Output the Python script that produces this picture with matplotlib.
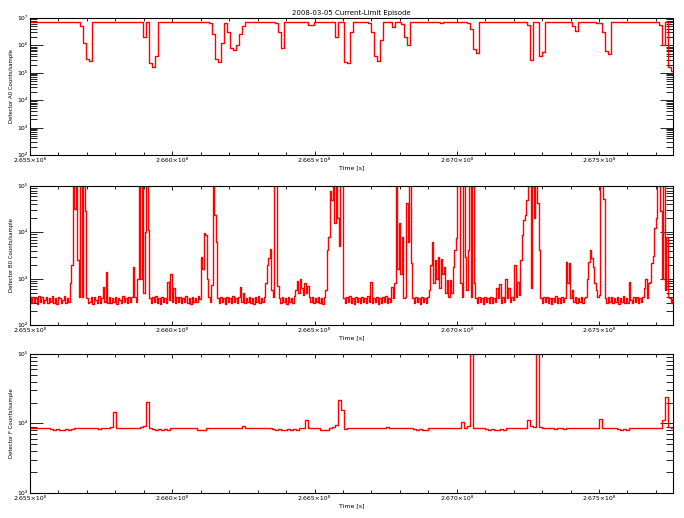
import numpy as np
import matplotlib
matplotlib.use("Agg")
import matplotlib.pyplot as plt
from matplotlib.ticker import MultipleLocator, LogLocator, FuncFormatter, NullFormatter

plt.rcParams['font.family'] = ['DejaVu Sans']

title = "2008-03-05 Current-Limit Episode"
ylabels = ["Detector A0 Counts/sample", "Detector B0 Counts/sample", "Detector F Counts/sample"]
xlabel = "Time [s]"
ylims = [(1e2, 1e7), (1e2, 1e5), (1e3, 1e5)]

T0 = 2.655e8          # first sample time [s]
T1 = 2.6776e8         # end of plotted window [s]
dt_a0 = 10560.0       # sample cadence [s]
dt_b0 = 5280.0
dt_f = 10560.0

# log10 of counts/sample
log_a0 = [
    6.86, 6.86, 6.86, 6.86, 6.86, 6.86, 6.86, 6.86, 6.86, 6.86,
    6.86, 6.86, 6.86, 6.86, 6.86, 6.86, 6.86, 6.70, 6.10, 5.50,
    5.42, 6.86, 6.86, 6.86, 6.86, 6.86, 6.86, 6.86, 6.86, 6.86,
    6.86, 6.86, 6.86, 6.86, 6.86, 6.86, 6.86, 6.86, 6.30, 6.86,
    5.35, 5.22, 5.60, 6.86, 6.86, 6.86, 6.86, 6.86, 6.86, 6.86,
    6.86, 6.86, 6.86, 6.86, 6.86, 6.86, 6.86, 6.86, 6.86, 6.86,
    6.80, 6.40, 5.50, 5.38, 6.10, 6.82, 6.50, 5.90, 5.83, 6.00,
    6.40, 6.72, 6.86, 6.86, 6.86, 6.86, 6.86, 6.86, 6.86, 6.86,
    6.86, 6.86, 6.82, 6.50, 5.90, 6.86, 6.86, 6.86, 6.86, 6.86,
    6.86, 6.86, 6.86, 6.76, 6.76, 6.86, 6.86, 6.86, 6.86, 6.86,
    6.86, 6.86, 6.30, 6.86, 6.86, 5.41, 5.35, 6.50, 6.86, 6.86,
    6.86, 6.86, 6.86, 6.80, 6.50, 5.60, 5.43, 6.20, 6.86, 6.86,
    6.86, 6.68, 6.86, 6.86, 6.78, 6.30, 6.00, 6.86, 6.86, 6.86,
    6.86, 6.86, 6.86, 6.86, 6.86, 6.86, 6.86, 6.82, 6.86, 6.86,
    6.86, 6.86, 6.86, 6.86, 6.86, 6.86, 6.82, 6.60, 5.85, 5.71,
    6.86, 6.86, 6.86, 6.86, 6.86, 6.86, 6.86, 6.86, 6.86, 6.86,
    6.86, 6.86, 6.86, 6.86, 6.86, 6.86, 6.75, 5.45, 6.86, 6.86,
    5.60, 5.75, 6.86, 6.86, 6.86, 6.86, 6.86, 6.86, 6.86, 6.86,
    6.86, 6.72, 6.53, 6.86, 6.86, 6.86, 6.86, 6.86, 6.86, 6.82,
    6.82, 6.50, 5.80, 5.68, 6.86, 6.86, 6.86, 6.86, 6.86, 6.86,
    6.86, 6.86, 6.86, 6.86, 6.86, 6.86, 6.86, 6.86, 6.86, 6.86,
    6.75, 6.00, 6.86, 5.20, 5.07,
]

log_b0 = [
    2.60, 2.47, 2.61, 2.49, 2.59, 2.46, 2.62, 2.50, 2.60, 2.48,
    2.53, 2.61, 2.47, 2.59, 2.49, 2.62, 2.48, 2.58, 2.46, 2.60,
    2.59, 2.48, 2.55, 2.62, 2.47, 2.58, 2.49, 2.90, 3.30, 5.50,
    4.50, 5.50, 3.40, 2.60, 5.50, 2.60, 5.50, 4.45, 2.58, 2.47,
    2.49, 2.60, 2.46, 2.61, 2.54, 2.48, 2.62, 2.47, 2.59, 2.83,
    2.50, 3.15, 2.48, 2.60, 2.47, 2.58, 2.49, 2.61, 2.46, 2.59,
    2.55, 2.47, 2.62, 2.49, 2.58, 2.48, 2.60, 2.50, 2.61, 3.26,
    2.60, 2.49, 3.00, 5.50, 3.00, 5.50, 2.70, 4.00, 5.50, 4.05,
    2.58, 2.47, 2.60, 2.49, 2.62, 2.48, 2.59, 2.46, 2.61, 2.50,
    2.58, 2.48, 2.93, 2.54, 3.10, 2.49, 2.80, 2.47, 2.60, 2.50,
    2.61, 2.47, 2.58, 2.49, 2.62, 2.48, 2.59, 2.46, 2.60, 2.50,
    2.58, 2.49, 2.62, 2.57, 3.47, 3.20, 3.98, 3.95, 3.00, 2.60,
    2.49, 2.86, 5.50, 4.37, 3.80, 2.58, 2.47, 2.60, 2.49, 2.59,
    2.46, 2.61, 2.50, 2.58, 2.47, 2.62, 2.49, 2.59, 2.48, 2.60,
    2.83, 2.50, 2.70, 2.47, 2.59, 2.49, 2.61, 2.48, 2.58, 2.46,
    2.60, 2.50, 2.62, 2.47, 2.58, 2.49, 2.61, 2.90, 3.29, 3.44,
    3.65, 2.75, 2.60, 5.50, 5.50, 2.85, 2.58, 2.47, 2.60, 2.49,
    2.59, 2.46, 2.61, 2.50, 2.58, 2.48, 2.62, 2.75, 2.95, 2.70,
    3.00, 2.80, 2.65, 2.90, 2.70, 2.85, 2.60, 2.49, 2.60, 2.47,
    2.58, 2.49, 2.61, 2.48, 2.59, 2.46, 2.60, 2.75, 3.62, 3.90,
    4.90, 4.70, 5.50, 4.20, 5.50, 4.30, 3.70, 5.50, 5.50, 2.58,
    2.47, 2.60, 2.49, 2.62, 2.48, 2.58, 2.46, 2.61, 2.50, 2.59,
    2.47, 2.60, 2.49, 2.58, 2.48, 2.62, 2.50, 2.93, 2.47, 2.59,
    2.49, 2.61, 2.46, 2.58, 2.48, 2.60, 2.50, 2.62, 2.47, 2.59,
    2.49, 2.81, 2.58, 2.90, 5.50, 3.20, 4.20, 3.10, 3.90, 2.58,
    2.60, 4.63, 3.80, 5.50, 3.33, 2.58, 2.47, 2.60, 2.49, 2.59,
    2.46, 2.61, 2.50, 2.58, 2.48, 2.60, 2.75, 3.30, 3.80, 2.90,
    3.40, 3.00, 3.47, 2.80, 3.43, 3.10, 3.26, 2.70, 2.97, 2.60,
    2.97, 2.70, 3.26, 3.62, 3.87, 5.50, 5.50, 2.90, 2.60, 5.50,
    3.47, 2.75, 3.62, 5.50, 2.60, 5.50, 2.90, 2.58, 2.47, 2.60,
    2.49, 2.58, 2.46, 2.61, 2.50, 2.59, 2.47, 2.60, 2.48, 2.58,
    2.49, 2.80, 2.58, 2.88, 2.48, 2.60, 2.50, 3.00, 2.59, 2.80,
    2.49, 2.61, 2.54, 3.29, 2.60, 2.93, 2.65, 3.40, 3.94, 4.27,
    4.37, 4.70, 5.50, 5.50, 2.80, 5.50, 4.30, 5.50, 4.63, 3.62,
    2.58, 2.47, 2.60, 2.49, 2.61, 2.48, 2.59, 2.46, 2.58, 2.50,
    2.62, 2.48, 2.59, 2.47, 2.60, 2.50, 2.58, 3.37, 2.90, 3.33,
    2.58, 2.75, 2.49, 2.61, 2.47, 2.59, 2.50, 2.60, 2.48, 2.58,
    2.60, 3.00, 3.37, 3.62, 3.44, 3.26, 2.90, 2.75, 2.60, 2.65,
    5.50, 5.50, 4.73, 2.58, 2.48, 2.60, 2.49, 2.61, 2.47, 2.59,
    2.50, 2.60, 2.46, 2.58, 2.49, 2.62, 2.48, 2.59, 2.47, 2.93,
    2.54, 2.48, 2.60, 2.49, 2.61, 2.47, 2.58, 2.50, 2.60, 2.80,
    3.00, 2.58, 2.90, 2.93, 3.33, 3.50, 4.09, 4.30, 5.50, 5.50,
    4.45, 3.00, 5.50, 2.75, 3.90, 2.60, 2.58, 2.48, 2.56,
]

log_f = [
    3.94, 3.93, 3.94, 3.94, 3.93, 3.94, 3.93, 3.92, 3.91, 3.92,
    3.91, 3.91, 3.92, 3.91, 3.92, 3.94, 3.94, 3.93, 3.94, 3.94,
    3.94, 3.93, 3.94, 3.92, 3.94, 3.94, 3.93, 3.95, 4.17, 3.94,
    3.94, 3.93, 3.94, 3.94, 3.94, 3.93, 3.94, 3.95, 3.96, 4.31,
    3.94, 3.92, 3.91, 3.92, 3.91, 3.92, 3.91, 3.93, 3.94, 3.94,
    3.93, 3.94, 3.94, 3.94, 3.93, 3.94, 3.91, 3.90, 3.91, 3.94,
    3.94, 3.93, 3.94, 3.94, 3.94, 3.93, 3.94, 3.94, 3.94, 3.93,
    3.94, 3.96, 3.94, 3.94, 3.93, 3.94, 3.94, 3.94, 3.93, 3.94,
    3.94, 3.92, 3.91, 3.92, 3.91, 3.91, 3.92, 3.91, 3.92, 3.91,
    3.94, 3.94, 4.05, 3.94, 3.94, 3.93, 3.94, 3.91, 3.90, 3.91,
    3.94, 3.95, 3.98, 4.34, 4.20, 3.92, 3.94, 3.94, 3.93, 3.94,
    3.94, 3.94, 3.93, 3.94, 3.94, 3.94, 3.93, 3.94, 3.94, 3.95,
    3.94, 3.94, 3.93, 3.94, 3.94, 3.94, 3.93, 3.94, 3.92, 3.91,
    3.92, 3.91, 3.91, 3.93, 3.94, 3.93, 3.94, 3.93, 3.93, 3.94,
    3.93, 3.94, 3.93, 3.94, 4.02, 3.94, 3.96, 5.10, 3.94, 3.94,
    3.94, 3.93, 3.92, 3.91, 3.92, 3.91, 3.91, 3.92, 3.91, 3.94,
    3.94, 3.93, 3.94, 3.94, 3.94, 3.93, 4.05, 3.96, 3.95, 5.10,
    3.95, 3.94, 3.94, 3.93, 3.93, 3.92, 3.93, 3.93, 3.92, 3.93,
    3.94, 3.94, 3.93, 3.94, 3.94, 3.94, 3.94, 3.93, 3.94, 3.94,
    4.07, 3.93, 3.93, 3.94, 3.93, 3.93, 3.92, 3.91, 3.92, 3.91,
    3.94, 3.94, 3.93, 3.94, 3.94, 3.94, 3.93, 3.94, 3.94, 3.94,
    3.94, 4.05, 4.38, 3.95, 3.94,
]

series = [(log_a0, dt_a0), (log_b0, dt_b0), (log_f, dt_f)]

sup = str.maketrans("0123456789-", "⁰¹²³⁴⁵⁶⁷⁸⁹⁻")


def xfmt(v, pos):
    return "%.3f×10⁸" % (v / 1e8)


def yfmt(v, pos):
    e = int(round(np.log10(v)))
    return "10" + str(e).translate(sup)


fig = plt.figure(figsize=(6.84, 5.18), dpi=100)
boxes = [[0.0439, 0.7008, 0.9400, 0.2645],
         [0.0439, 0.3726, 0.9400, 0.2683],
         [0.0439, 0.0483, 0.9400, 0.2683]]

for k in range(3):
    ax = fig.add_axes(boxes[k])
    vals, dt = series[k]
    t = T0 + dt * np.arange(len(vals))
    ax.plot(t, 10 ** np.array(vals), color='red', lw=1.0, drawstyle='steps-mid')
    ax.set_yscale('log')
    ax.set_xlim(T0, T1)
    ax.set_ylim(*ylims[k])
    ax.xaxis.set_major_locator(MultipleLocator(5e5))
    ax.xaxis.set_minor_locator(MultipleLocator(1e5))
    ax.xaxis.set_major_formatter(FuncFormatter(xfmt))
    ax.yaxis.set_major_locator(LogLocator(base=10, numticks=12))
    ax.yaxis.set_minor_locator(LogLocator(base=10, subs=np.arange(2, 10), numticks=12))
    ax.yaxis.set_major_formatter(FuncFormatter(yfmt))
    ax.yaxis.set_minor_formatter(NullFormatter())
    ax.tick_params(axis='x', which='major', direction='in', length=2.6, width=0.6,
                   top=True, bottom=True, labelsize=4.5, pad=2)
    ax.tick_params(axis='x', which='minor', direction='in', length=2.2, width=0.6,
                   top=True, bottom=True)
    ax.tick_params(axis='y', which='major', direction='in', length=9.4, width=0.6,
                   left=True, right=True, labelsize=4.5, pad=2)
    ax.tick_params(axis='y', which='minor', direction='in', length=4.7, width=0.6,
                   left=True, right=True)
    for s in ax.spines.values():
        s.set_linewidth(0.8)
    ax.set_xlabel(xlabel, fontsize=4.5, labelpad=2)
    ax.set_ylabel(ylabels[k], fontsize=3.9, labelpad=2)
    if k == 0:
        ax.set_title(title, fontsize=5, pad=2)

fig.savefig("out.png", dpi=100, facecolor='white')
